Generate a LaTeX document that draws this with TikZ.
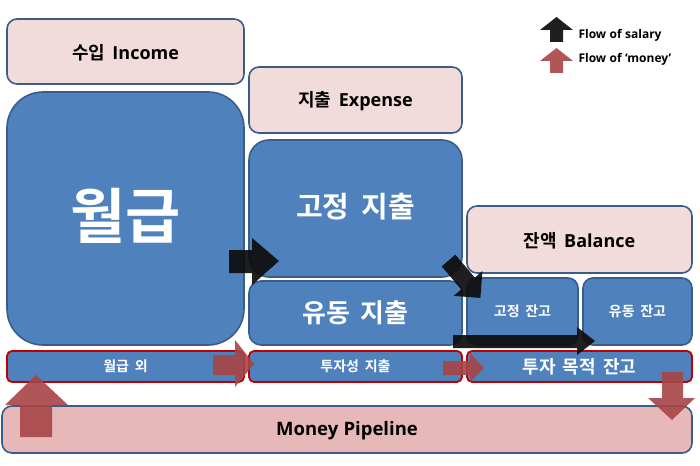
\documentclass[tikz,border=0pt]{standalone}
\usepackage{fontspec}
\usetikzlibrary{calc}
\setmainfont{Noto Sans CJK KR}[BoldFont=* Bold, WordSpace=1.8]
\newfontfamily\lat{Open Sans}[WordSpace=1.1]
\definecolor{bluefill}{HTML}{4F81BD}
\definecolor{blueline}{HTML}{385D8A}
\definecolor{pinkfill}{HTML}{F2DCDB}
\definecolor{pipefill}{HTML}{E6B9B8}
\definecolor{redline}{HTML}{C00000}
\definecolor{moneyc}{HTML}{A84446}
\definecolor{salaryc}{HTML}{0D0D0D}
\tikzset{
  box/.style={draw=blueline, line width=1.6pt, inner sep=0pt},
  bluebox/.style={box, fill=bluefill, text=white, font=\bfseries},
  pinkbox/.style={box, fill=pinkfill, text=black, font=\bfseries},
  invbox/.style={draw=redline, line width=1.8pt, fill=bluefill, text=white, font=\bfseries, inner sep=0pt},
  salary/.style={fill=salaryc, fill opacity=0.92},
  money/.style={fill=moneyc, fill opacity=0.9},
}
\newcommand{\rbox}[7]{% style, name, x1,y1,x2,y2, radius
  \path[#1, rounded corners=#7] (#3,#4) rectangle (#5,#6);
  \coordinate (#2) at ({(#3+#5)/2},{(#4+#6)/2});
}
\begin{document}
\begin{tikzpicture}[x=1pt,y=-1pt]
\useasboundingbox (0,0) rectangle (700,465);
\fill[white] (0,0) rectangle (700,465);
% pink header boxes
\rbox{pinkbox}{inc}{7}{19}{244}{84}{10}
\node[font=\bfseries\fontsize{18}{20}\selectfont] at ($(inc)+(0,1)$) {수입 {\lat\bfseries Income}};
\rbox{pinkbox}{exp}{249}{67}{462}{133}{10}
\node[font=\bfseries\fontsize{18}{20}\selectfont] at ($(exp)+(0,1)$) {지출 {\lat\bfseries Expense}};
\rbox{pinkbox}{bal}{467}{206}{692}{273}{10}
\node[font=\bfseries\fontsize{18}{20}\selectfont] at ($(bal)+(0,1)$) {잔액 {\lat\bfseries Balance}};
% blue boxes
\rbox{bluebox}{sal}{7}{92}{244}{345}{36}
\node[text=white,font=\bfseries\fontsize{60}{66}\selectfont] at ($(sal)+(0,-3)$) {월급};
\rbox{bluebox}{fix}{249}{140}{462}{277}{20}
\node[text=white,font=\bfseries\fontsize{29}{34}\selectfont] at ($(fix)+(0,-2)$) {고정 지출};
\rbox{bluebox}{var}{249}{281}{462}{345}{12}
\node[text=white,font=\bfseries\fontsize{26}{30}\selectfont] at (var) {유동 지출};
\rbox{bluebox}{fixb}{467}{278}{578}{345}{10}
\node[text=white,font=\bfseries\fontsize{14}{16}\selectfont] at (fixb) {고정 잔고};
\rbox{bluebox}{varb}{583}{278}{692}{345}{10}
\node[text=white,font=\bfseries\fontsize{14}{16}\selectfont] at (varb) {유동 잔고};
% investment row
\rbox{invbox}{oth}{7}{351}{244}{382}{5}
\node[text=white,font=\bfseries\fontsize{14}{16}\selectfont] at (oth) {월급 외};
\rbox{invbox}{inv}{249}{351}{462}{382}{5}
\node[text=white,font=\bfseries\fontsize{14}{16}\selectfont] at (inv) {투자성 지출};
\rbox{invbox}{invb}{467}{351}{692}{382}{5}
\node[text=white,font=\bfseries\fontsize{18}{20}\selectfont] at (invb) {투자 목적 잔고};
% pipeline
\path[box, fill=pipefill, rounded corners=10] (2,406) rectangle (692,453);
\coordinate (pipe) at (347,431);
\node[font=\lat\bfseries\fontsize{18.5}{20}\selectfont] at (pipe) {Money Pipeline};
% salary arrows
\fill[salary] (229,250) -- (252,250) -- (252,238) -- (279,261) -- (252,285) -- (252,273) -- (229,273) -- cycle;
\fill[salary] (441.7,266.4) -- (455.3,254.6) -- (474.8,277.6) -- (482.4,271.1) -- (480.4,297.9) -- (453.6,295.9) -- (461.2,289.4) -- cycle;
\fill[salary] (453,335) -- (577,335) -- (577,327) -- (595,341) -- (577,355) -- (577,348) -- (453,348) -- cycle;
% money arrows
\fill[money] (213,355) -- (235,355) -- (235,340) -- (254,364) -- (235,387) -- (235,375) -- (213,375) -- cycle;
\fill[money] (443,361) -- (470,361) -- (470,353) -- (484,368) -- (470,382) -- (470,375) -- (443,375) -- cycle;
\fill[money] (662,372) -- (683,372) -- (683,398) -- (695,398) -- (672,420) -- (648,398) -- (662,398) -- cycle;
\fill[money] (20,437) -- (20,405) -- (5,405) -- (36,375) -- (68,405) -- (52,405) -- (52,437) -- cycle;
% legend
\fill[salary] (550,42) -- (550,30) -- (540,30) -- (556.5,17) -- (573,30) -- (563,30) -- (563,42) -- cycle;
\node[anchor=west,font=\lat\bfseries\fontsize{12}{14}\selectfont] (lg1) at (575,35) {Flow of salary};
\fill[money] (550,73) -- (550,61) -- (540,61) -- (556.5,48) -- (573,61) -- (563,61) -- (563,73) -- cycle;
\node[anchor=west,font=\lat\bfseries\fontsize{12}{14}\selectfont] (lg2) at (575,59) {Flow of ‘money’};
\end{tikzpicture}
\end{document}
